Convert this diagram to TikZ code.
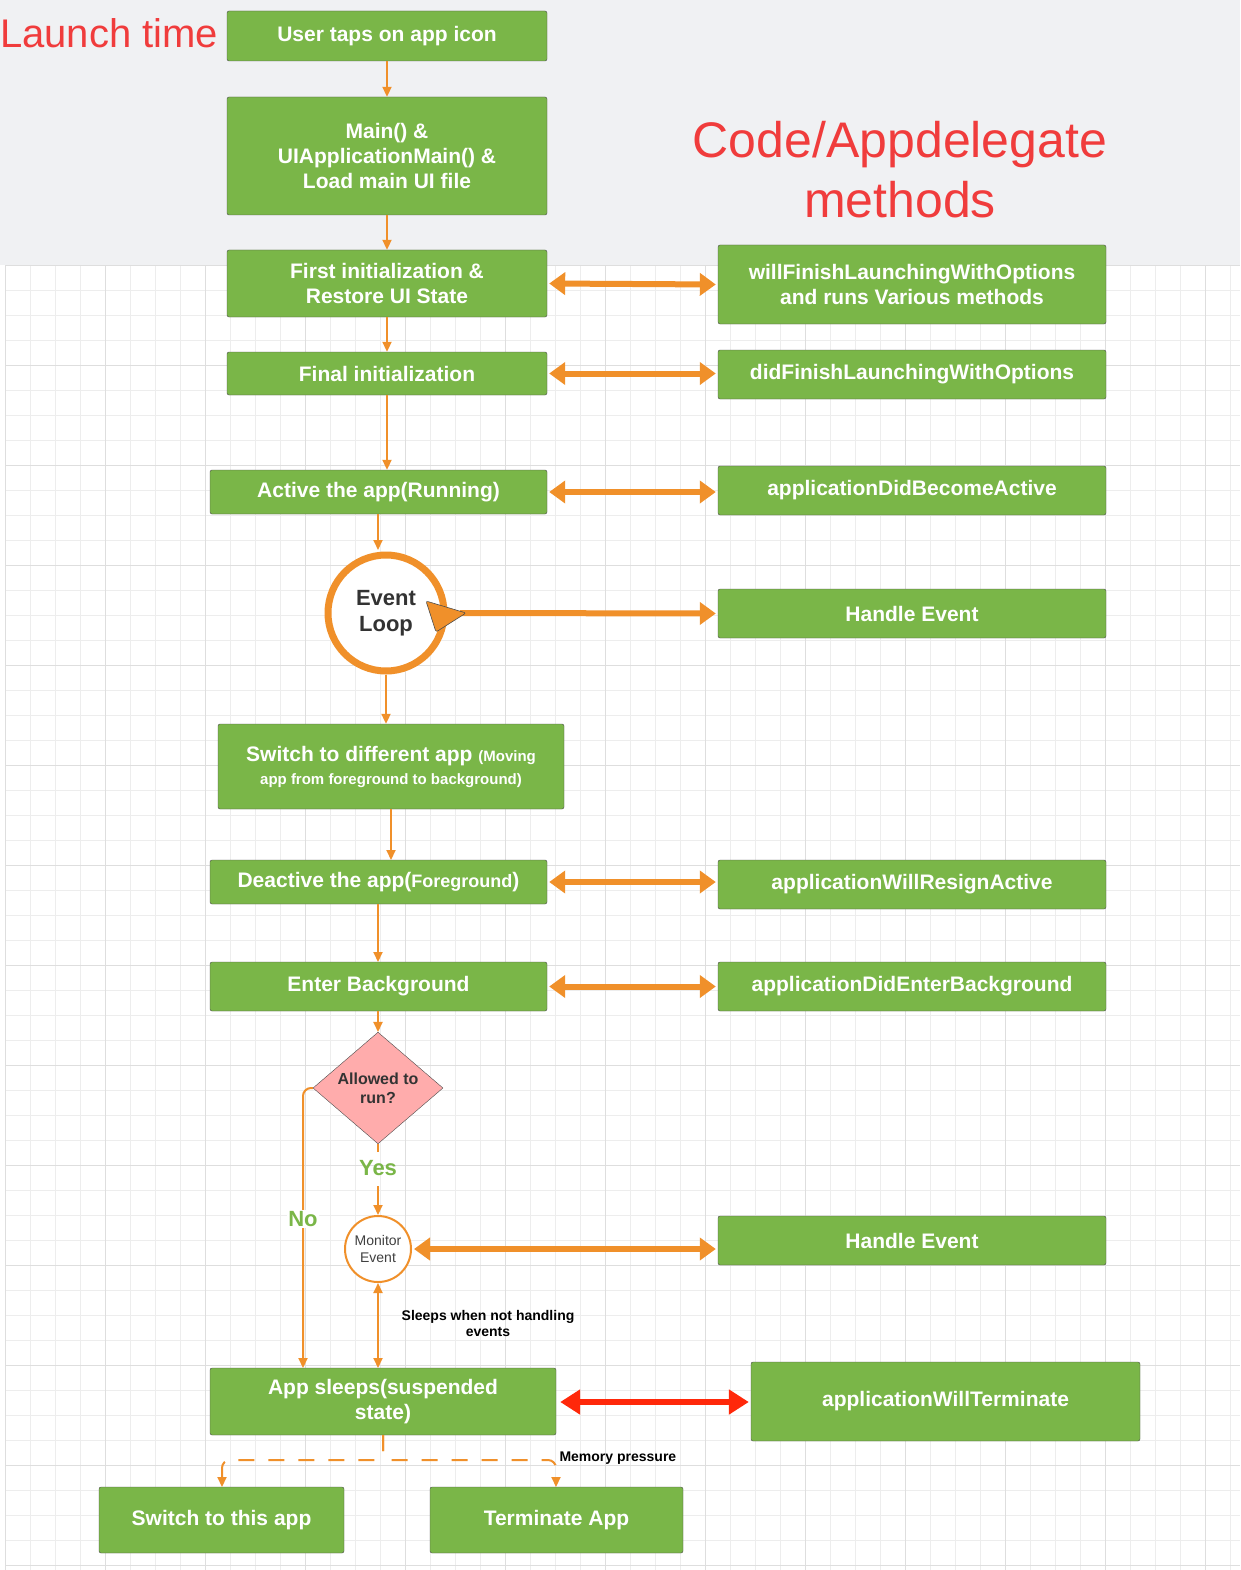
\documentclass[tikz,border=0pt]{standalone}
\usepackage{fontspec}
\setmainfont{Liberation Sans}
\usetikzlibrary{shapes.geometric,arrows.meta}
\definecolor{gr}{HTML}{7AB648}
\definecolor{og}{HTML}{F0902A}
\definecolor{rd}{HTML}{F03C3C}
\definecolor{bg}{HTML}{F0F1F3}
\begin{document}
\begin{tikzpicture}[x=1pt,y=-1pt,
 box/.style={draw=black!70,fill=gr,rounded corners=2pt,text=white,font=\fontsize{21}{25}\selectfont\bfseries,align=center,inner sep=0pt},
 flow/.style={draw=og,line width=2pt,-{Triangle[length=10pt,width=9pt]}},
 dbl/.style={draw=og,line width=6pt,{Triangle[length=16pt,width=22pt]}-{Triangle[length=16pt,width=22pt]},shorten <=2pt,shorten >=2pt}]
\useasboundingbox (0,0) rectangle (1240,1570);
\fill[bg] (0,0) rectangle (1240,265);
\fill[white] (5,265) rectangle (1240,1570);
\foreach \i in {5,30,...,1240} \draw[black!7,line width=0.6pt] (\i,265)--(\i,1570);
\foreach \j in {265,290,...,1570} \draw[black!7,line width=0.6pt] (5,\j)--(1240,\j);
\foreach \i in {5,105,...,1240} \draw[black!13,line width=0.8pt] (\i,265)--(\i,1570);
\foreach \j in {265,365,...,1570} \draw[black!13,line width=0.8pt] (5,\j)--(1240,\j);
\def\bx#1#2#3#4#5#6{\node[box,minimum width=#4-#2,minimum height=#5-#3] (#1) at ({(#2+#4)/2},{(#3+#5)/2}) {#6};}
\bx{u}{227}{11}{547}{61}{User taps on app icon}
\bx{m}{227}{97}{547}{215}{Main() \&\\UIApplicationMain() \&\\Load main UI file}
\bx{f}{227}{250}{547}{317}{First initialization \&\\Restore UI State}
\bx{fi}{227}{352}{547}{395}{Final initialization}
\bx{a}{210}{470}{547}{514}{Active the app(Running)}
\node[circle,draw=og,line width=7pt,fill=white,minimum size=116pt,font=\fontsize{22}{26}\selectfont\bfseries,text=black!80,align=center] (ev) at (386,613) {Event\\Loop};
\bx{s}{218}{724}{564}{809}{Switch to different app {\fontsize{15}{18}\selectfont(Moving}\\[-2pt]{\fontsize{15}{18}\selectfont app from foreground to background)}}
\bx{d}{210}{860}{547}{904}{Deactive the app({\fontsize{18}{20}\selectfont Foreground})}
\bx{e}{210}{962}{547}{1011}{Enter Background}
\node[diamond,draw=black!70,fill=red!30!white,fill=pink!90!red,minimum width=130pt,minimum height=82pt,inner sep=0pt,font=\fontsize{16}{19}\selectfont\bfseries,text=black!80,align=center] (q) at (378,1088) {Allowed to\\run?};
\node[circle,draw=og,line width=2pt,fill=white,minimum size=66pt,inner sep=0pt,font=\fontsize{14}{17}\selectfont,text=black!75,align=center] (mo) at (378,1249) {Monitor\\Event};
\bx{sl}{210}{1368}{556}{1435}{App sleeps(suspended\\state)}
\bx{sw}{99}{1487}{344}{1553}{Switch to this app}
\bx{t}{430}{1487}{683}{1553}{Terminate App}
\bx{w}{718}{245}{1106}{324}{willFinishLaunchingWithOptions\\and runs Various methods}
\bx{dd}{718}{350}{1106}{399}{didFinishLaunchingWithOptions}
\bx{b}{718}{466}{1106}{515}{applicationDidBecomeActive}
\bx{h1}{718}{589}{1106}{638}{Handle Event}
\bx{r}{718}{860}{1106}{909}{applicationWillResignActive}
\bx{eb}{718}{962}{1106}{1011}{applicationDidEnterBackground}
\bx{h2}{718}{1216}{1106}{1265}{Handle Event}
\bx{wt}{751}{1362}{1140}{1441}{applicationWillTerminate}
\node[text=rd,font=\fontsize{40}{44}\selectfont,anchor=west,inner sep=0pt] (lt) at (0,33) {Launch time};
\node[text=rd,font=\fontsize{50}{60}\selectfont,align=center] (ct) at (900,170) {Code/Appdelegate\\methods};
% vertical flow
\draw[flow] (u.south)--(m.north);
\draw[flow] (m.south)--(f.north);
\draw[flow] (f.south)--(fi.north);
\draw[flow] (fi.south)--(fi.south|-a.north);
\draw[flow] (a.south-|378,0)--(378,550);
\draw[flow] (ev.south)--(ev.south|-s.north);
\draw[flow] (391,809)--(391,860);
\draw[flow] (378,904)--(378,962);
\draw[flow] (378,1011)--(q.north);
\draw[draw=og,line width=2pt] (q.south)--(378,1152);
\draw[flow] (378,1186)--(mo.north);
\node[text=gr,font=\fontsize{22}{26}\selectfont\bfseries] (yes) at (378,1168) {Yes};
\draw[flow,rounded corners=8pt] (q.west)--(303,1088)--(303,1368);
\node[fill=white,text=gr,font=\fontsize{22}{26}\selectfont\bfseries,inner sep=1pt] (no) at (303,1219) {No};
\draw[draw=og,line width=2pt,{Triangle[length=10pt,width=9pt]}-{Triangle[length=10pt,width=9pt]}] (mo.south)--(378,1368);
\node[font=\fontsize{14}{16}\selectfont\bfseries,align=center] (sn) at (488,1323) {Sleeps when not handling\\events};
% dashed
\draw[draw=og,line width=2pt,dash pattern=on 16pt off 14pt,rounded corners=8pt,-{Triangle[length=10pt,width=9pt]}] (383,1435)--(383,1460)--(222,1460)--(222,1487);
\draw[draw=og,line width=2pt,dash pattern=on 16pt off 14pt,rounded corners=8pt,-{Triangle[length=10pt,width=9pt]}] (383,1435)--(383,1460)--(556,1460)--(556,1487);
\node[font=\fontsize{14}{16}\selectfont\bfseries,anchor=west] (mp) at (556,1458) {Memory pressure};
% double arrows
\draw[dbl] (f.east)--(w.west);
\draw[dbl] (fi.east)--(fi.east-|dd.west);
\draw[dbl] (a.east)--(a.east-|b.west);
\draw[dbl] (d.east)--(d.east-|r.west);
\draw[dbl] (e.east)--(e.east-|eb.west);
\draw[draw=og,line width=6pt,-{Triangle[length=16pt,width=22pt]},shorten >=2pt] (460,613)--(h1.west);
\draw[fill=og,draw=black!70,line width=0.6pt,rounded corners=2pt] (426,601)--(466,613)--(436,632)--cycle;
\draw[dbl] (mo.east)--(mo.east-|h2.west);
\draw[draw={rgb,255:red,255;green,40;blue,10},line width=6pt,{Triangle[length=20pt,width=24pt]}-{Triangle[length=20pt,width=24pt]},shorten <=4pt,shorten >=2pt] (sl.east|-0,1402)--(wt.west|-0,1402);
\end{tikzpicture}
\end{document}
